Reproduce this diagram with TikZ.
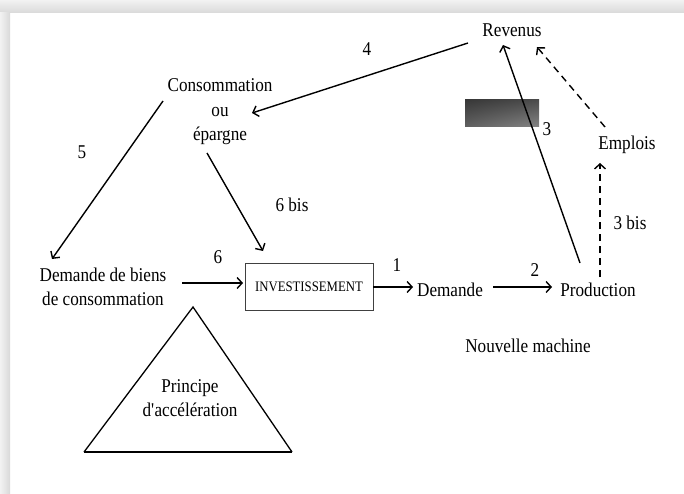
\documentclass[tikz,border=0pt]{standalone}
\usepackage{fontspec}
\setmainfont{Liberation Serif}[FakeStretch=0.88]
\usetikzlibrary{arrows.meta,shadings}
\begin{document}
\begin{tikzpicture}[x=1pt,y=-1pt,
  lbl/.style={inner sep=0pt, font=\fontsize{19.5}{24.5}\selectfont, align=center},
  arr/.style={line width=1.4pt, -{Straight Barb[length=5pt,width=11pt]}},
  dsh/.style={arr, dash pattern=on 7pt off 5pt},
  boxst/.style={draw=black!75, line width=0.8pt, minimum width=128pt, minimum height=47pt, inner sep=0pt, font=\fontsize{14.5}{16}\selectfont}]
\useasboundingbox (0,0) rectangle (684,494);
\fill[white] (0,0) rectangle (684,494);
% frame shadow
\shade[top color=black!5, bottom color=black!15] (0,0) rectangle (684,13);
\shade[left color=black!5, right color=black!15] (0,13) rectangle (10,494);
% dark gradient bar
\shade[upper left=black!78, upper right=black!70, lower left=black!62, lower right=black!48] (465,100) rectangle (539,127);

% text nodes
\node[lbl] (revenus) at (512,30) {Revenus};
\node[lbl] (conso) at (220,112) {Consommation\\ou\\épargne};
\node[lbl] (biens) at (103,287) {Demande de biens\\de consommation};
\node[boxst] (invest) at (309,286.5) {INVESTISSEMENT};
\node[lbl] (demande) at (450,290) {Demande};
\node[lbl] (production) at (598,290) {Production};
\node[lbl] (emplois) at (627,145) {Emplois};
\node[lbl] (nouvelle) at (528,346) {Nouvelle machine};

% number labels
\node[lbl] (l4) at (367,49) {4};
\node[lbl] (l5) at (82,152) {5};
\node[lbl] (l6bis) at (292,205) {6 bis};
\node[lbl] (l6) at (218,257) {6};
\node[lbl] (l1) at (397,265) {1};
\node[lbl] (l2) at (535,270) {2};
\node[lbl] (l3) at (547,129) {3};
\node[lbl] (l3bis) at (630,223) {3 bis};

% connector end points
\coordinate (r4) at (468,43);   \coordinate (c4) at (252,113);
\coordinate (c5) at (163,101);  \coordinate (b5) at (52,259);
\coordinate (c6) at (207,153);  \coordinate (i6) at (263,251);
\coordinate (b6) at (182,283);  \coordinate (i6w) at (243,283);
\coordinate (i1) at (373,287);  \coordinate (d1) at (413,287);
\coordinate (d2) at (493,287);  \coordinate (p2) at (552,287);
\coordinate (p3) at (580,263);  \coordinate (r3) at (503,45);
\coordinate (e3) at (605,127);  \coordinate (r3b) at (537,47);
\coordinate (p3b) at (600,277); \coordinate (e3b) at (600,163);

% connectors
\draw[arr] (r4) -- (c4);
\draw[arr] (c5) -- (b5);
\draw[arr] (c6) -- (i6);
\draw[arr] (b6) -- (i6w);
\draw[arr] (i1) -- (d1);
\draw[arr] (d2) -- (p2);
\draw[arr] (p3) -- (r3);
\draw[dsh] (e3) -- (r3b);
\draw[dsh] (p3b) -- (e3b);

% triangle
\coordinate (tA) at (193,307);
\coordinate (tL) at (84,452);
\coordinate (tR) at (292,452);
\draw[line width=1.3pt, line join=miter] (tL) -- (tA) -- (tR);
\draw[line width=2.4pt] (tL) -- (tR);
\node[lbl] (accel) at (190,398) {Principe\\d\textquotesingle accélération};
\end{tikzpicture}
\end{document}
